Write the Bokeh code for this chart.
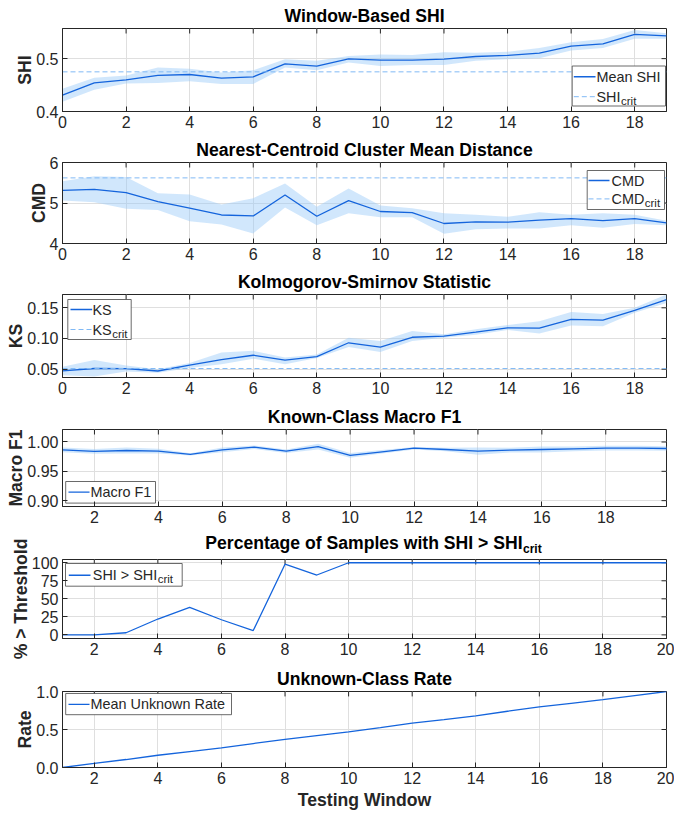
import math
from bokeh.plotting import figure
from bokeh.models import Range1d, FixedTicker, PrintfTickFormatter, Label, Title
from bokeh.layouts import column
from bokeh.embed import file_html
from bokeh.resources import INLINE

# ---------------- data ----------------
win_a = [0, 1, 2, 3, 4, 5, 6, 7, 8, 9, 10, 11, 12, 13, 14, 15, 16, 17, 18, 19]
win_b = [1, 2, 3, 4, 5, 6, 7, 8, 9, 10, 11, 12, 13, 14, 15, 16, 17, 18, 19, 20]

shi_mean = [0.431, 0.454, 0.460, 0.4685, 0.470, 0.463, 0.4655, 0.490, 0.486, 0.4995,
            0.497, 0.497, 0.499, 0.504, 0.506, 0.5105, 0.5235, 0.528, 0.5457, 0.543]
shi_lo = [0.4185, 0.441, 0.453, 0.454, 0.457, 0.452, 0.452, 0.483, 0.478, 0.4926,
          0.486, 0.488, 0.488, 0.496, 0.499, 0.5006, 0.5154, 0.520, 0.5377, 0.5377]
shi_hi = [0.443, 0.464, 0.468, 0.483, 0.481, 0.474, 0.478, 0.499, 0.496, 0.505,
          0.508, 0.507, 0.512, 0.511, 0.513, 0.520, 0.531, 0.537, 0.554, 0.548]
shi_crit = 0.475

cmd_mean = [5.31, 5.336, 5.255, 5.036, 4.875, 4.704, 4.68, 5.198, 4.672, 5.06,
            4.79, 4.76, 4.494, 4.534, 4.526, 4.575, 4.615, 4.567, 4.615, 4.51]
cmd_lo = [5.06, 5.02, 4.86, 4.83, 4.55, 4.47, 4.25, 4.89, 4.45, 4.75,
          4.65, 4.65, 4.24, 4.35, 4.37, 4.37, 4.45, 4.39, 4.48, 4.45]
cmd_hi = [5.54, 5.66, 5.64, 5.24, 5.21, 4.96, 5.12, 5.48, 4.91, 5.36,
          4.94, 4.87, 4.75, 4.71, 4.66, 4.77, 4.71, 4.75, 4.71, 4.56]
cmd_crit = 5.62

ks_mean = [0.0473, 0.0511, 0.051, 0.047, 0.0565, 0.0657, 0.0727, 0.0646, 0.0705, 0.093,
           0.086, 0.102, 0.1038, 0.1103, 0.1173, 0.1168, 0.131, 0.130, 0.1457, 0.1635]
ks_lo = [0.040, 0.038, 0.046, 0.044, 0.052, 0.058, 0.067, 0.058, 0.068, 0.086,
         0.078, 0.096, 0.101, 0.106, 0.114, 0.108, 0.121, 0.120, 0.142, 0.158]
ks_hi = [0.054, 0.065, 0.056, 0.050, 0.060, 0.077, 0.080, 0.069, 0.074, 0.101,
         0.096, 0.112, 0.107, 0.115, 0.122, 0.128, 0.143, 0.140, 0.150, 0.1716]
ks_crit = 0.051

f1_mean = [0.9867, 0.9839, 0.9855, 0.9844, 0.9789, 0.9867, 0.9911, 0.9844, 0.9922, 0.9772,
           0.9833, 0.9894, 0.9872, 0.9844, 0.9861, 0.9872, 0.9883, 0.9894, 0.9894, 0.9889]
f1_half = [0.004, 0.004, 0.005, 0.004, 0.002, 0.004, 0.003, 0.003, 0.005, 0.004,
           0.003, 0.002, 0.003, 0.006, 0.004, 0.005, 0.004, 0.004, 0.004, 0.004]

pct_above = [0, 0, 3, 22, 38, 21, 6, 98, 83, 100,
             100, 100, 100, 100, 100, 100, 100, 100, 100, 100]

unknown_rate = [0.0, 0.055, 0.105, 0.161, 0.21, 0.258, 0.315, 0.369, 0.42, 0.47,
                0.525, 0.585, 0.63, 0.68, 0.74, 0.797, 0.845, 0.894, 0.947, 1.0]

ticks_a = [0, 2, 4, 6, 8, 10, 12, 14, 16, 18]
ticks_f1 = [2, 4, 6, 8, 10, 12, 14, 16, 18]
ticks_b = [2, 4, 6, 8, 10, 12, 14, 16, 18, 20]

# ---------------- style ----------------
FONT = "Liberation Sans"
AX = "#262626"
GRID = "#dfdfdf"
LINE = "#1464dc"
BAND = "#99c9f9"
CRIT = "#80b9f5"
TICK_PX = 16
LAB_PX = 17.6
LEG_PX = 14.4
SUB_PX = 11.5
PAGE_W = 674
LEFT = 62
RIGHT = 8
TICK_LEN = 5

REG = {'S': 667, 'H': 722, 'I': 278, 'C': 722, 'M': 833, 'D': 722, 'K': 667, ' ': 278,
       '>': 584, 'c': 500, 'r': 333, 'i': 222, 't': 278}
BOLD = {'P': 667, 'e': 556, 'r': 389, 'c': 556, 'n': 611, 't': 333, 'a': 556, 'g': 611,
        'o': 611, 'f': 333, 'S': 667, 'm': 889, 'p': 611, 'l': 278, 's': 556, 'w': 778,
        'i': 278, 'h': 611, 'H': 722, 'I': 278, '>': 584, ' ': 278}


def tw(s, size, bold=False):
    t = BOLD if bold else REG
    return sum(t.get(ch, 556) for ch in s) * size / 1000.0


def style_axis(ax):
    ax.major_tick_in = TICK_LEN
    ax.major_tick_out = 0
    ax.minor_tick_line_color = None
    ax.axis_line_color = AX
    ax.major_tick_line_color = AX
    ax.major_label_text_font = FONT
    ax.major_label_text_font_size = f"{TICK_PX}px"
    ax.major_label_text_color = AX
    ax.major_label_standoff = 4


class Panel:
    def __init__(self, xr, yr, height, top, bottom, xticks, yticks, yfmt,
                 title=None, ylabel=None, ylabel_standoff=-2, **kw):
        self.x0, self.x1 = xr
        self.y0, self.y1 = yr
        self.fw = PAGE_W - LEFT - RIGHT
        self.fh = height - top - bottom
        p = figure(width=PAGE_W, height=height, min_border_left=LEFT, min_border_right=RIGHT,
                   min_border_top=top, min_border_bottom=bottom,
                   x_range=Range1d(*xr), y_range=Range1d(*yr), title=None,
                   output_backend="svg", toolbar_location=None, **kw)
        p.background_fill_color = "white"
        p.border_fill_color = "white"
        p.outline_line_color = AX
        p.outline_line_width = 1
        p.xaxis.ticker = FixedTicker(ticks=xticks)
        p.yaxis.ticker = FixedTicker(ticks=yticks)
        p.xgrid.ticker = FixedTicker(ticks=xticks)
        p.ygrid.ticker = FixedTicker(ticks=yticks)
        if yfmt:
            p.yaxis.formatter = PrintfTickFormatter(format=yfmt)
        self.xax = p.below[0]
        self.yax = p.left[0]
        style_axis(self.xax)
        style_axis(self.yax)
        for g in (p.xgrid[0], p.ygrid[0]):
            g.grid_line_color = GRID
            g.grid_line_width = 1
        self.p = p
        # mirrored inward ticks on the top and right edges of the box
        n, m = len(xticks), len(yticks)
        p.segment(x0=xticks, y0=[self.y1] * n, x1=xticks, y1=[self.Y(TICK_LEN)] * n,
                  line_color=AX, line_width=1)
        p.segment(x0=[self.x1] * m, y0=yticks, x1=[self.X(self.fw - TICK_LEN)] * m, y1=yticks,
                  line_color=AX, line_width=1)
        if title:
            p.add_layout(Title(text=title, align="center", text_font=FONT,
                               text_font_size=f"{LAB_PX}px", text_font_style="bold",
                               text_color="#000000", standoff=6), "above")
        if ylabel:
            ax = self.yax
            ax.axis_label = ylabel
            ax.axis_label_text_font = FONT
            ax.axis_label_text_font_size = f"{LAB_PX}px"
            ax.axis_label_text_font_style = "bold"
            ax.axis_label_text_color = AX
            ax.axis_label_standoff = ylabel_standoff

    def X(self, dx):
        return self.x0 + dx / self.fw * (self.x1 - self.x0)

    def Y(self, dy):
        return self.y1 - dy / self.fh * (self.y1 - self.y0)

    def label(self, dx, dy, text, size, bold=False, align="left", color=AX):
        self.p.add_layout(Label(x=self.X(dx), y=self.Y(dy), text=text, text_font=FONT,
                                text_font_size=f"{size}px",
                                text_font_style="bold" if bold else "normal",
                                text_align=align, text_baseline="middle",
                                text_color=color))

    def legend(self, box, entries, sample, text_x):
        l, t, r, b = box
        self.p.quad(left=self.X(l), right=self.X(r), top=self.Y(t), bottom=self.Y(b),
                    fill_color="white", line_color="#444444", line_width=0.8)
        for (ey, dashed, text, sub) in entries:
            xs = [self.X(sample[0]), self.X(sample[1])]
            ys = [self.Y(ey), self.Y(ey)]
            if dashed:
                self.p.line(xs, ys, line_color=CRIT, line_width=1, line_dash="5 3")
            else:
                self.p.line(xs, ys, line_color=LINE, line_width=1.4)
            self.label(text_x, ey, text, LEG_PX)
            if sub:
                self.label(text_x + tw(text, LEG_PX) + 0.5, ey + 4.0, sub, SUB_PX)


def band_line(pn, x, lo, hi, mean):
    pn.p.varea(x=x, y1=lo, y2=hi, fill_color=BAND, fill_alpha=0.45)
    pn.p.line(x, mean, line_color=LINE, line_width=1.3)


FW = PAGE_W - LEFT - RIGHT

# ---------------- panel 1: SHI ----------------
p1 = Panel((0, 19), (0.4, 0.557), 134, 28, 23, ticks_a, [0.4, 0.5], "%.1f",
           title="Window-Based SHI", ylabel="SHI")
band_line(p1, win_a, shi_lo, shi_hi, shi_mean)
p1.p.line(win_a, [shi_crit] * len(win_a), line_color=CRIT, line_width=1, line_dash="5 3")
l1 = FW - 1 - 93.3
p1.legend((l1, 37.5, FW - 1, 77.5),
          [(48.2, False, "Mean SHI", None), (68.2, True, "SHI", "crit")],
          (l1 + 1.6, l1 + 23.3), l1 + 24.3)

# ---------------- panel 2: CMD ----------------
p2 = Panel((0, 19), (4, 6), 132, 28, 23, ticks_a, [4, 5, 6], "%d",
           title="Nearest-Centroid Cluster Mean Distance", ylabel="CMD")
band_line(p2, win_a, cmd_lo, cmd_hi, cmd_mean)
p2.p.line(win_a, [cmd_crit] * len(win_a), line_color=CRIT, line_width=1, line_dash="5 3")
l2 = FW - 2 - 77.3
p2.legend((l2, 8, FW - 2, 47),
          [(18, False, "CMD", None), (36.4, True, "CMD", "crit")],
          (l2 + 1.3, l2 + 22.3), l2 + 24.3)

# ---------------- panel 3: KS ----------------
p3 = Panel((0, 19), (0.0364, 0.1717), 134, 28, 23, ticks_a, [0.05, 0.10, 0.15], "%.2f",
           title="Kolmogorov-Smirnov Statistic", ylabel="KS")
band_line(p3, win_a, ks_lo, ks_hi, ks_mean)
p3.p.line(win_a, [ks_crit] * len(win_a), line_color=CRIT, line_width=1, line_dash="5 3")
p3.legend((5.3, 5, 68.7, 45),
          [(15, False, "KS", None), (35, True, "KS", "crit")],
          (8, 29.7), 30)

# ---------------- panel 4: Macro F1 ----------------
f1_lo = [m - h for m, h in zip(f1_mean, f1_half)]
f1_hi = [m + h for m, h in zip(f1_mean, f1_half)]
p4 = Panel((1, 19.9), (0.890, 1.0213), 131, 29, 25, ticks_f1, [0.90, 0.95, 1.00], "%.2f",
           title="Known-Class Macro F1", ylabel="Macro F1")
band_line(p4, win_b, f1_lo, f1_hi, f1_mean)
p4.legend((3.2, 52, 93, 73.6), [(62.6, False, "Macro F1", None)], (6, 27), 28)

# ---------------- panel 5 title strip (title with a subscript) ----------------
T5_H = 28
t5 = figure(width=PAGE_W, height=T5_H, x_range=Range1d(0, PAGE_W), y_range=Range1d(T5_H, 0),
            x_axis_type=None, y_axis_type=None, min_border=0, title=None,
            output_backend="svg", toolbar_location=None)
t5.outline_line_color = None
t5.background_fill_color = "white"
t5.border_fill_color = "white"
t_main = "Percentage of Samples with SHI > SHI"
w_main = tw(t_main, LAB_PX, True)
w_sub = tw("crit", 12, True)
center5 = LEFT + FW / 2
anchor = center5 - (w_main + w_sub) / 2 + w_main
t5.add_layout(Label(x=anchor, y=11.9, text=t_main, text_font=FONT, text_font_size=f"{LAB_PX}px",
                    text_font_style="bold", text_color="#000000", text_align="right",
                    text_baseline="middle"))
t5.add_layout(Label(x=anchor + 0.5, y=17.3, text="crit", text_font=FONT, text_font_size="12px",
                    text_font_style="bold", text_color="#000000", text_align="left",
                    text_baseline="middle"))

# ---------------- panel 5: percentage above threshold ----------------
# its transparent top border overlaps the title strip, so the long y label can extend upwards
p5 = Panel((1, 20), (-5, 104.5), 132, 28, 25, ticks_b, [0, 25, 50, 75, 100], None,
           ylabel="% > Threshold", margin=(-T5_H, 0, 0, 0))
p5.p.border_fill_color = None
p5.p.line(win_b, pct_above, line_color=LINE, line_width=1.3)
p5.legend((3, 4, 119.7, 26.7), [(15.7, False, "SHI > SHI", "crit")], (6.3, 28), 30.3)

# ---------------- panel 6: unknown-class rate ----------------
p6 = Panel((1, 20), (0, 1), 149, 28, 44, ticks_b, [0, 0.5, 1.0], "%.1f",
           title="Unknown-Class Rate", ylabel="Rate")
p6.p.line(win_b, unknown_rate, line_color=LINE, line_width=1.3)
p6.legend((3.2, 2, 169, 23.5), [(13, False, "Mean Unknown Rate", None)], (6, 27), 28)
xa = p6.xax
xa.axis_label = "Testing Window"
xa.axis_label_text_font = FONT
xa.axis_label_text_font_size = f"{LAB_PX}px"
xa.axis_label_text_font_style = "bold"
xa.axis_label_text_color = AX
xa.axis_label_standoff = 3

layout = column(p1.p, p2.p, p3.p, p4.p, t5, p5.p, p6.p, spacing=0)
open("out.html", "w").write(file_html(layout, INLINE))
